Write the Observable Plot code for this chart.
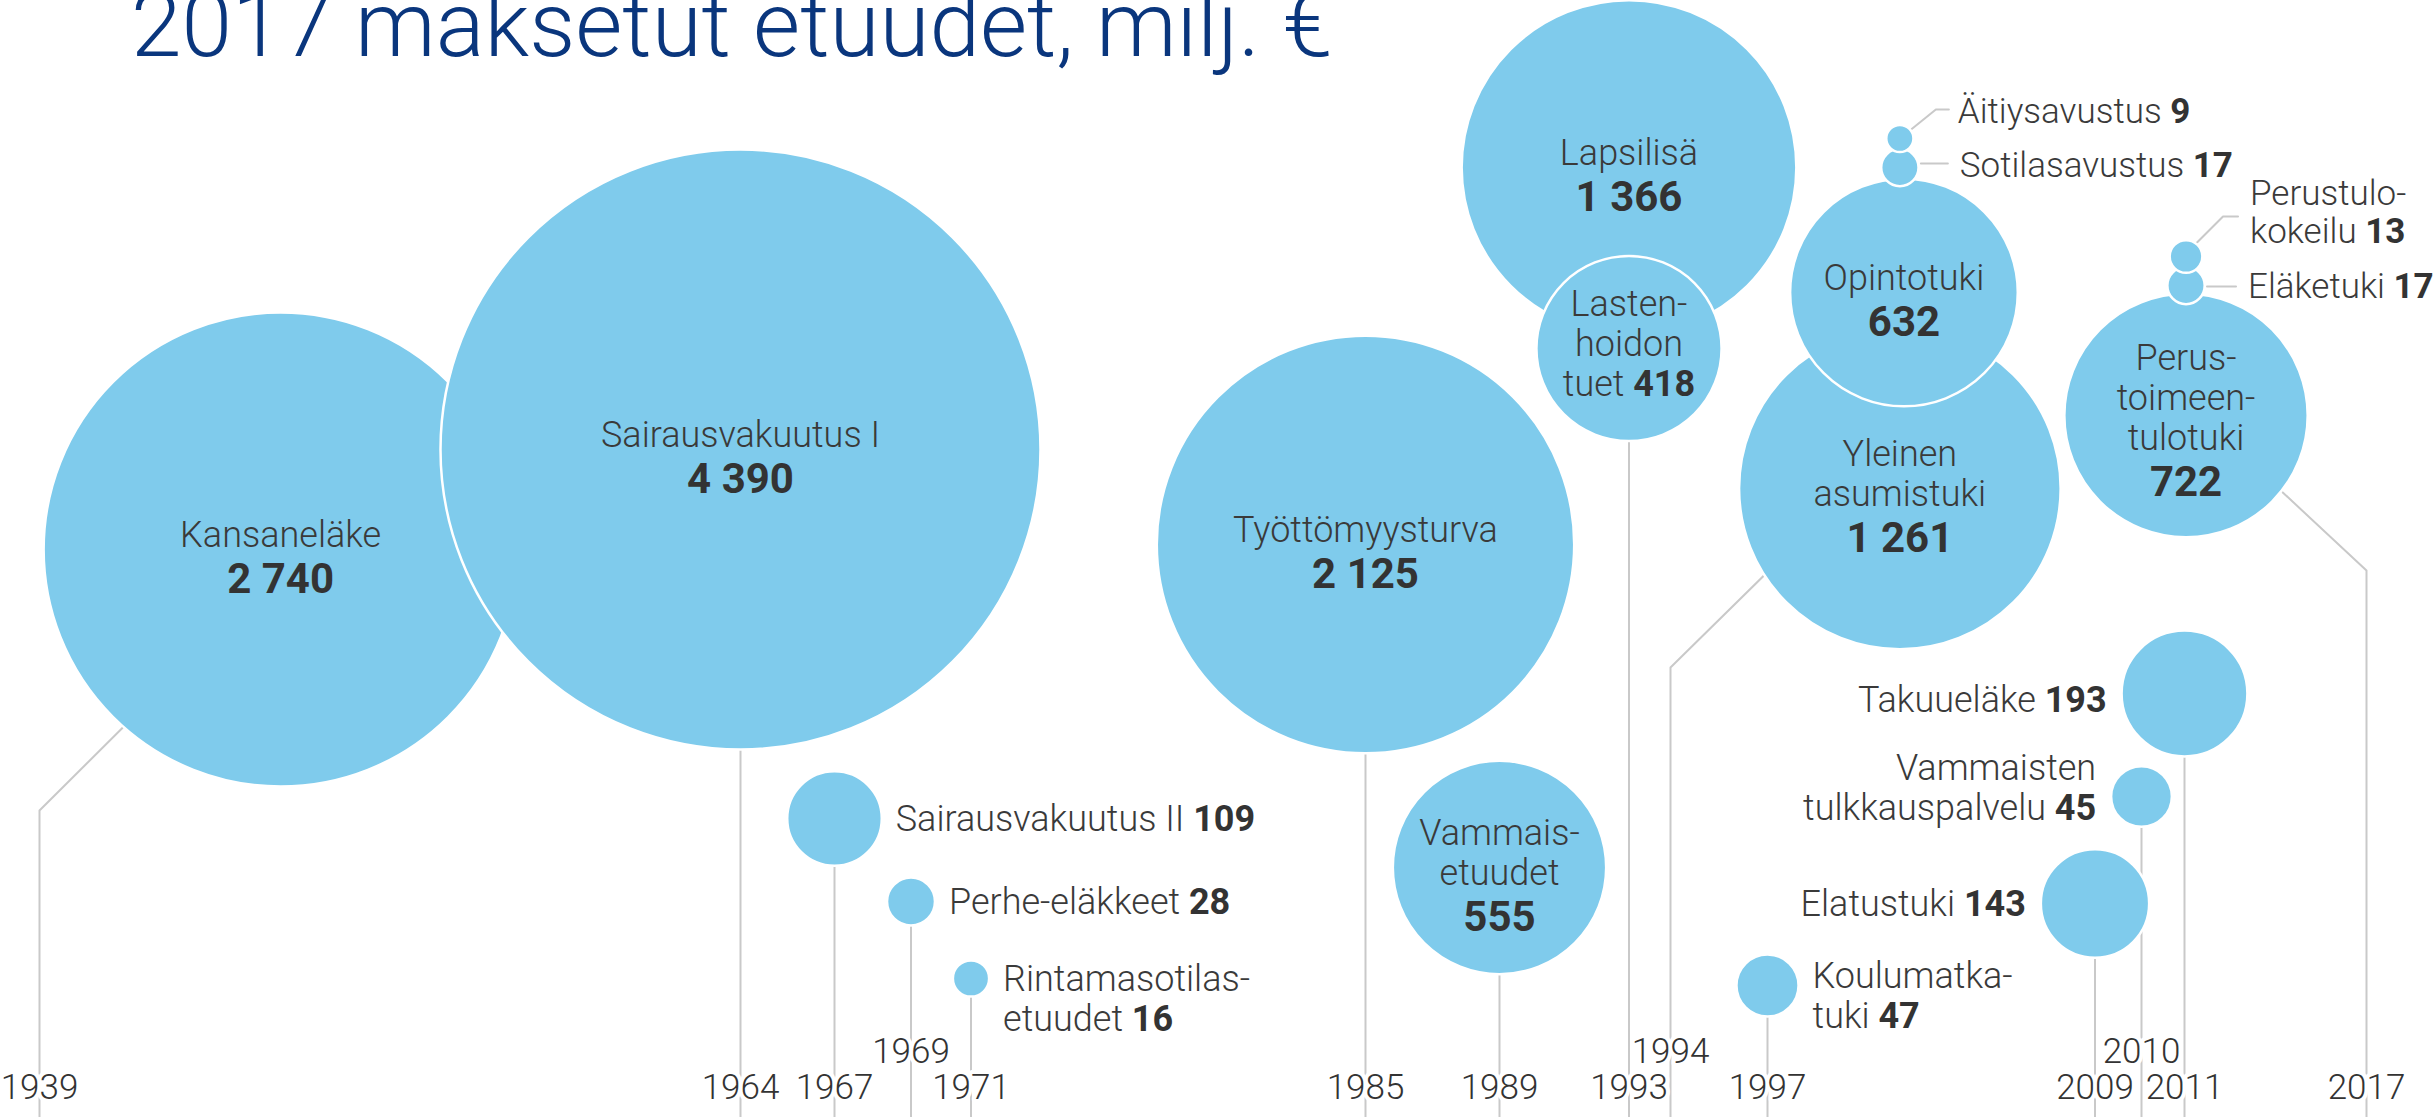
<!DOCTYPE html>
<html><head><meta charset="utf-8">
<script src="https://cdn.jsdelivr.net/npm/d3@7"></script>
<script src="https://cdn.jsdelivr.net/npm/@observablehq/plot@0.6"></script>
<style>
html,body{margin:0;padding:0;background:#fff;}
#wrap{position:relative;width:2433px;height:1117px;overflow:hidden;background:#fff;}
#title{position:absolute;left:131px;top:-20px;font:300 91px/91px Roboto, sans-serif;color:#0a367d;white-space:nowrap;z-index:2;}
#chart{position:absolute;left:0;top:0;}
</style></head><body>
<div id="wrap"><div id="title">2017 maksetut etuudet, milj. €</div><div id="chart"></div></div>
<script>
// ---------- data ----------
const names = ["Kansaneläke","Sairausvakuutus I","Sairausvakuutus II","Perhe-eläkkeet","Rintamasotilasetuudet","Työttömyysturva","Vammaisetuudet","Lapsilisä","Lastenhoidon tuet","Yleinen asumistuki","Opintotuki","Sotilasavustus","Äitiysavustus","Koulumatkatuki","Elatustuki","Vammaisten tulkkauspalvelu","Takuueläke","Perustoimeentulotuki","Eläketuki","Perustulokokeilu"];
const values = [2740,4390,109,28,16,2125,555,1366,418,1261,632,17,9,47,143,45,193,722,17,13];
const startYears = [1939,1964,1967,1969,1971,1985,1989,1993,1993,1994,1994,1994,1994,1997,2009,2010,2011,2017,2017,2017];
const labelTexts = ["Kansaneläke","Sairausvakuutus I","Sairausvakuutus II","Perhe-eläkkeet","Rintamasotilas-\netuudet","Työttömyysturva","Vammais-\netuudet","Lapsilisä","Lasten-\nhoidon\ntuet","Yleinen\nasumistuki","Opintotuki","Sotilasavustus","Äitiysavustus","Koulumatka-\ntuki","Elatustuki","Vammaisten\ntulkkauspalvelu","Takuueläke","Perus-\ntoimeen-\ntulotuki","Eläketuki","Perustulo-\nkokeilu"];
const tickYears = [1939,1964,1967,1969,1971,1985,1989,1993,1994,1997,2009,2010,2011,2017];
const raisedTickYears = [1969,1994,2010];

// ---------- layout (hand packing of the original graphic) ----------
// bubble centres: x in timeline years, y in px above the bottom edge
const bubbleX = [1947.6,1964,1967,1969,1971,1985,1989,1993,1993,2001.85,2002,2001.85,2001.85,1997,2009,2010,2011,2011.05,2011.05,2011.05];
const bubbleY = [568,668,299,216,139,573,250,950,769,629,825,950,979,132,214,321,424,702,832,861];
const labelSide = ["in","in","r","r","r","in","in","in","in","in","in","lead","lead","r","l","l","l","in","lead","lead"];
const inlineValue = [false,false,true,true,true,false,false,false,true,false,false,true,true,true,true,true,true,false,true,true];
const labelDy = [0,0,0,0,20,0,0,0,-5,0,0,-3,-28,10,0,-9,6,-3,0,-45];
const leaderTextDx = {11:60, 12:58, 18:62, 19:64};
const leaderPaths = {11:[[21,-4],[48,-4]], 12:[[10,-8],[36,-29],[49,-29]], 18:[[21,1],[50,1]], 19:[[11,-14],[37,-40],[52,-40]]};
// stems: which bubble each tick-year line leads to; bent leaders for three of them
const stemTargets = [0,1,2,3,4,5,6,8,9,13,14,15,16,17];
const stemBendY = {1939:307, 1994:450, 2017:547};
const stemEnd = {1939:[1943.3,427], 1994:[1997.84,568], 2017:[2013.18,655]};

// ---------- scales ----------
const W = 2433, H = 1117;
const xOpts = {type:"linear", domain: tickYears, range:[39,740,834,910.5,970.5,1365,1499,1628.5,1670,1767,2094.5,2141,2184,2366], axis:null};
const yOpts = {type:"linear", domain:[0,H], range:[H,0], axis:null};
const rOpts = {type:"sqrt", domain:[0,4390], range:[0,300]};
const xS = Plot.scale({x: xOpts});
const rS = Plot.scale({r: rOpts});

const BLUE = "#7fcbec", LINE = "#c9c9c9", TXT = "#3a3a3a", VAL = "#333333";
const fmt = v => String(v).replace(/\B(?=(\d{3})+(?!\d))/g, "\u00a0");
const idx = names.map((_, i) => i);

// stems
const stemPts = tickYears.flatMap((yr, j) => {
  const b = stemTargets[j];
  if (stemBendY[yr] !== undefined) return [{k:yr,x:yr,y:0},{k:yr,x:yr,y:stemBendY[yr]},{k:yr,x:stemEnd[yr][0],y:stemEnd[yr][1]}];
  return [{k:yr,x:yr,y:0},{k:yr,x:bubbleX[b],y:bubbleY[b]}];
});
// leaders of small stacked bubbles
const leaderPts = Object.entries(leaderPaths).flatMap(([i, path]) => path.map(([ox, oy]) => ({
  k: +i, x: xS.invert(xS.apply(bubbleX[i]) + ox), y: bubbleY[i] - oy
})));

const labelMarks = idx.flatMap(i => {
  const rpx = rS.apply(values[i]);
  const n = labelTexts[i].split("\n").length;
  const base = {x: () => bubbleX[i], y: () => bubbleY[i], fontSize: 36, fontWeight: 300, lineHeight: 1.11, fill: TXT};
  const txt = inlineValue[i] ? `${labelTexts[i]} §${fmt(values[i])}` : labelTexts[i];
  const side = labelSide[i];
  if (side === "in") {
    if (inlineValue[i]) return [Plot.text([i], {...base, text: () => txt, lineAnchor: "bottom", dy: (n - 1) * 20 + 12 + labelDy[i]})];
    const d0 = (n - 1) * 20 - 3 + labelDy[i];
    return [
      Plot.text([i], {...base, text: () => txt, lineAnchor: "bottom", dy: d0}),
      Plot.text([i], {...base, text: () => fmt(values[i]), lineAnchor: "bottom", dy: d0 + 46, fontSize: 42, fontWeight: 700, fill: VAL})
    ];
  }
  if (side === "r") return [Plot.text([i], {...base, text: () => txt, textAnchor: "start", lineAnchor: "middle", dx: rpx + 14, dy: labelDy[i]})];
  if (side === "l") return [Plot.text([i], {...base, text: () => txt, textAnchor: "end", lineAnchor: "middle", dx: -(rpx + 15), dy: labelDy[i]})];
  return [Plot.text([i], {...base, fontSize: 35, text: () => txt, textAnchor: "start", lineAnchor: "middle", dx: leaderTextDx[i], dy: labelDy[i]})];
});

const chart = Plot.plot({
  width: W, height: H, margin: 0,
  x: xOpts, y: yOpts, r: rOpts,
  style: {fontFamily: "Roboto, sans-serif", background: "white", overflow: "visible"},
  marks: [
    Plot.line(stemPts, {x: "x", y: "y", z: "k", stroke: LINE, strokeWidth: 2}),
    Plot.line(leaderPts, {x: "x", y: "y", z: "k", stroke: LINE, strokeWidth: 2}),
    Plot.dot(idx, {x: i => bubbleX[i], y: i => bubbleY[i], r: i => values[i], fill: BLUE, stroke: "white", strokeWidth: 2.5, sort: null}),
    Plot.text(tickYears, {x: d => d, y: d => raisedTickYears.includes(d) ? 55 : 19, text: d => String(d),
      lineAnchor: "bottom", fontSize: 35, fontWeight: 300, fill: "#333", stroke: "white", strokeWidth: 8}),
    ...labelMarks
  ]
});

// bold numbers following the § marker
chart.querySelectorAll("text").forEach(t => {
  const spans = t.querySelectorAll("tspan");
  const targets = spans.length ? [...spans] : [t];
  targets.forEach(el => {
    const s = el.textContent;
    const k = s.indexOf("§");
    if (k < 0) return;
    el.textContent = s.slice(0, k);
    const b = document.createElementNS("http://www.w3.org/2000/svg", "tspan");
    b.setAttribute("font-weight", "700");
    b.setAttribute("fill", VAL);
    b.textContent = s.slice(k + 1);
    el.appendChild(b);
  });
});
document.getElementById("chart").appendChild(chart);
</script>
</body></html>
